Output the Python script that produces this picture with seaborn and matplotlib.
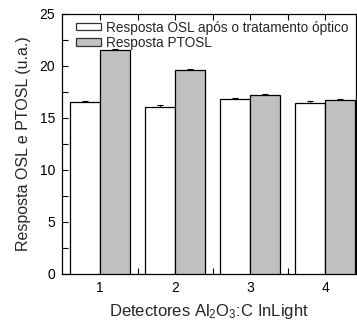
import matplotlib
matplotlib.use("Agg")
import matplotlib.pyplot as plt
import seaborn as sns
import pandas as pd
import numpy as np
from matplotlib.ticker import FixedLocator, MultipleLocator

detectors = ["1", "2", "3", "4"]
osl = [16.5, 16.05, 16.8, 16.45]
ptosl = [21.55, 19.6, 17.2, 16.75]
osl_err = [0.15, 0.2, 0.12, 0.15]
ptosl_err = [0.05, 0.08, 0.1, 0.1]
series = ["Resposta OSL após o tratamento óptico", "Resposta PTOSL"]

sns.set_theme(style="ticks")
plt.rcParams['font.family'] = ['Liberation Sans', 'DejaVu Sans']
plt.rcParams['mathtext.fontset'] = 'custom'
plt.rcParams['mathtext.rm'] = 'Liberation Sans'
plt.rcParams['mathtext.it'] = 'Liberation Sans'

df = pd.DataFrame({
    "det": detectors * 2,
    "val": osl + ptosl,
    "serie": [series[0]] * 4 + [series[1]] * 4,
})

fig = plt.figure(figsize=(3.57, 3.23), dpi=100)
ax = fig.add_axes([0.174, 0.152, 0.823, 0.805])

sns.barplot(data=df, x="det", y="val", hue="serie", order=detectors,
            hue_order=series, palette=["white", "#c0c0c0"], width=0.8,
            edgecolor="black", linewidth=0.9, errorbar=None, ax=ax, zorder=3,
            saturation=1)

errs = osl_err + ptosl_err
bars = [p for p in ax.patches if p.get_height() > 0][:8]
for p, e in zip(bars, errs):
    xc = p.get_x() + p.get_width() / 2
    ax.errorbar([xc], [p.get_height()], yerr=[e], fmt="none", ecolor="black",
                elinewidth=0.8, capsize=2.5, capthick=0.8, zorder=2)

ax.set_ylim(0, 25)
ax.set_xlim(-0.507, 3.41)
ax.yaxis.set_major_locator(MultipleLocator(5))
ax.yaxis.set_minor_locator(MultipleLocator(2.5))
ax.xaxis.set_minor_locator(FixedLocator([0.5, 1.5, 2.5]))
ax.tick_params(axis="both", which="both", direction="in", labelsize=10,
               top=True, right=False, colors="black", width=0.8)
ax.tick_params(axis="both", which="major", length=4, pad=5)
ax.tick_params(axis="both", which="minor", length=4)
for s in ax.spines.values():
    s.set_visible(True)
    s.set_color("black")
    s.set_linewidth(0.9)

ax.set_xlabel("Detectores Al$_2$O$_3$:C InLight", fontsize=12, labelpad=5)
ax.set_ylabel("Resposta OSL e PTOSL (u.a.)", fontsize=11.5, labelpad=6)

leg = ax.legend(loc="upper left", frameon=False, fontsize=9.8,
                handlelength=1.84, handleheight=0.45, handletextpad=0.37,
                labelspacing=0.1, borderaxespad=0.0,
                bbox_to_anchor=(0.028, 0.995))
for h in leg.legend_handles:
    h.set_edgecolor("#333333")
    h.set_linewidth(0.9)

fig.savefig("out.png", dpi=100)
